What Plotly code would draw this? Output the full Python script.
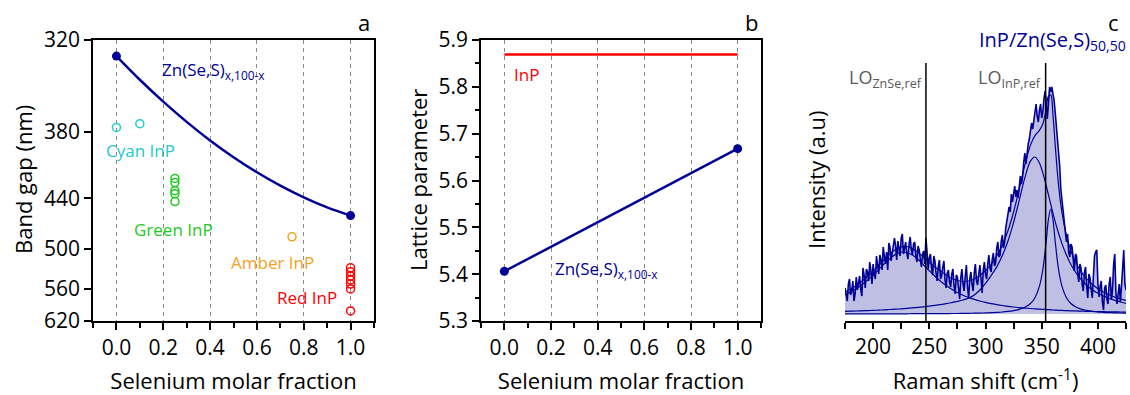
import plotly.graph_objects as go

HC = 1240.0  # eV*nm, converts wavelength to photon energy for the energy-linear axis

# ---------------- Panel a : band gap ----------------
gap_tick_nm = [320, 380, 440, 500, 560, 620]
se_curve_x = [0.0, 0.1, 0.2, 0.3, 0.4, 0.5, 0.6, 0.7, 0.8, 0.9, 1.0]
znses_gap_nm = [329.1, 343.5, 358.0, 372.5, 386.9, 400.9, 414.4, 427.1, 438.9, 449.6, 458.7]
cyan_x = [0.0, 0.1]
cyan_nm = [376.7, 373.9]
green_x = [0.25, 0.25, 0.25, 0.25, 0.25]
green_nm = [420.2, 424.1, 432.1, 435.1, 443.3]
amber_x = [0.75]
amber_nm = [484.0]
red_x = [1.0, 1.0, 1.0, 1.0, 1.0, 1.0, 1.0]
red_nm = [526.5, 532.6, 538.9, 545.3, 551.9, 560.1, 599.9]

# ---------------- Panel b : lattice parameter ----------------
se_b_x = [0.0, 1.0]
lattice_znses = [5.406, 5.668]
lattice_inp = [5.869, 5.869]

# ---------------- Panel c : Raman ----------------
raman_x = list(range(175, 426))  # measured every 1 cm-1 from 175 to 425
raman_int = [
    26, 17, 13, 30, 35, 19, 23, 33, 13, 20, 37, 24, 31, 38, 25, 18, 46, 39, 26, 45,   # 175-194
    42, 33, 52, 44, 30, 50, 40, 35, 58, 49, 40, 59, 54, 44, 67, 58, 50, 62, 44, 71,   # 195-214
    67, 53, 62, 70, 76, 68, 54, 73, 65, 58, 76, 80, 60, 66, 72, 61, 55, 70, 77, 64,   # 215-234
    59, 70, 72, 58, 52, 68, 64, 55, 47, 60, 63, 50, 76, 62, 45, 56, 60, 46, 39, 58,   # 235-254
    53, 41, 33, 48, 54, 35, 38, 47, 53, 34, 26, 41, 44, 32, 27, 40, 45, 28, 20, 39,   # 255-274
    37, 26, 15, 36, 45, 30, 23, 38, 49, 27, 16, 35, 42, 30, 23, 41, 50, 33, 29, 40,   # 275-294
    49, 36, 21, 44, 52, 40, 35, 50, 59, 46, 42, 55, 61, 48, 51, 66, 72, 57, 59, 73,   # 295-314
    79, 66, 72, 86, 94, 97, 107, 102, 120, 112, 120, 128, 117, 124, 116, 131, 138, 130, 137, 152,  # 315-334
    161, 150, 161, 170, 175, 182, 191, 185, 194, 200, 210, 198, 192, 204, 210, 196, 202, 215, 223, 212,  # 335-354
    195, 210, 227, 222, 227, 220, 214, 202, 190, 172, 159, 148, 125, 115, 106, 98, 88, 72, 80, 62,  # 355-374
    57, 70, 67, 52, 43, 60, 58, 40, 32, 50, 46, 30, 23, 42, 47, 28, 16, 40, 36, 25,   # 375-394
    16, 38, 58, 62, 64, 30, 17, 28, 33, 12, 4, 26, 29, 15, 10, 30, 37, 14, 24, 50,    # 395-414
    60, 22, 10, 20, 30, 12, 25, 45, 64, 30, 24]                                       # 415-425

fit_x = [175, 180, 185, 190, 195, 200, 205, 210, 215, 220, 225, 230, 235, 240, 245, 250, 255, 260,
         265, 270, 275, 280, 285, 290, 295, 300, 305, 310, 315, 320, 325, 330, 335, 340, 344, 348,
         351, 354, 356, 358, 360, 362, 365, 368, 372, 376, 380, 385, 390, 395, 400, 405, 410, 415,
         420, 425]
fit_total = [22.0, 25.0, 28.5, 32.7, 37.4, 42.7, 48.5, 54.5, 60.2, 64.6, 67.2, 67.5, 65.4, 61.6, 56.7,
             51.9, 47.0, 43.0, 39.0, 35.5, 33.5, 32.5, 33.0, 35.0, 38.5, 43.5, 49.5, 58.0, 69.0, 83.3,
             102.0, 125.0, 148.8, 168.9, 178.4, 183.6, 190.2, 205.4, 217.9, 219.1, 199.4, 169.0, 128.9,
             101.8, 78.6, 63.2, 52.4, 42.4, 35.1, 29.8, 25.3, 22.0, 19.2, 16.9, 15.1, 13.6]
comp_a = [19.3, 22.1, 25.4, 29.3, 33.8, 38.9, 44.4, 50.2, 55.5, 59.6, 61.8, 61.5, 58.9, 54.5, 49.0,
          43.3, 37.8, 32.8, 28.5, 24.7, 21.5, 18.8, 16.6, 14.6, 13.0, 11.6, 10.4, 9.4, 8.5, 7.7,
          7.0, 6.4, 5.9, 5.5, 5.1, 4.8, 4.6, 4.4, 4.3, 4.2, 4.0, 3.9, 3.7, 3.6, 3.4, 3.2, 3.1,
          2.9, 2.7, 2.6, 2.4, 2.3, 2.2, 2.1, 2.0, 1.9]
comp_b = [2.6, 2.8, 3.0, 3.2, 3.4, 3.6, 3.9, 4.1, 4.5, 4.8, 5.2, 5.7, 6.2, 6.6, 7.2,
          7.9, 8.6, 9.4, 10.3, 11.4, 12.6, 14.0, 15.9, 19.0, 24.0, 30.6, 38.5, 47.1, 58.4, 73.0,
          91.6, 113.6, 136.2, 152.9, 157.0, 151.0, 141.1, 128.3, 119.1, 109.9, 100.9, 92.4, 80.7,
          70.4, 58.9, 49.5, 42.0, 34.6, 28.8, 24.3, 20.7, 17.9, 15.5, 13.6, 12.0, 10.7]
comp_c = [0.1, 0.1, 0.1, 0.1, 0.1, 0.1, 0.2, 0.2, 0.2, 0.2, 0.2, 0.2, 0.3, 0.3, 0.3,
          0.3, 0.4, 0.4, 0.4, 0.5, 0.5, 0.6, 0.7, 0.8, 0.9, 1.1, 1.3, 1.6, 2.0, 2.6,
          3.4, 4.6, 6.7, 10.5, 16.3, 27.8, 44.5, 72.7, 94.5, 105.0, 94.5, 72.7, 44.5,
          27.8, 16.3, 10.5, 7.3, 4.9, 3.6, 2.7, 2.1, 1.7, 1.4, 1.2, 1.0, 0.8]
lo_ref_x = [247.0, 353.5]
lo_ref_top = 251

NAVY = "#000096"
FONT = "Open Sans"
TICKF = dict(family=FONT, size=21, color="black")
TITLEF = dict(family=FONT, size=22, color="black")

fig = go.Figure()

# ---- panel a traces
fig.add_trace(go.Scatter(x=se_curve_x, y=[HC / v for v in znses_gap_nm], mode="lines",
                         line=dict(color=NAVY, width=2.5, shape="spline"), xaxis="x", yaxis="y"))
fig.add_trace(go.Scatter(x=[se_curve_x[0], se_curve_x[-1]],
                         y=[HC / znses_gap_nm[0], HC / znses_gap_nm[-1]], mode="markers",
                         marker=dict(color=NAVY, size=9), xaxis="x", yaxis="y"))
for xs, nms, col in [(cyan_x, cyan_nm, "#22c8d2"), (green_x, green_nm, "#1fc81f"),
                     (amber_x, amber_nm, "#f5a01e"), (red_x, red_nm, "#ff0000")]:
    fig.add_trace(go.Scatter(x=xs, y=[HC / v for v in nms], mode="markers",
                             marker=dict(symbol="circle-open", color=col, size=8, line=dict(width=1.5)),
                             xaxis="x", yaxis="y"))

# ---- panel b traces
fig.add_trace(go.Scatter(x=se_b_x, y=lattice_inp, mode="lines", line=dict(color="#ff0000", width=2.5),
                         xaxis="x2", yaxis="y2"))
fig.add_trace(go.Scatter(x=se_b_x, y=lattice_znses, mode="lines+markers", line=dict(color=NAVY, width=2.5),
                         marker=dict(color=NAVY, size=9), xaxis="x2", yaxis="y2"))

# ---- panel c traces
fig.add_trace(go.Scatter(x=raman_x, y=raman_int, mode="lines", line=dict(width=0),
                         fill="tozeroy", fillcolor="rgba(112,112,196,0.45)", xaxis="x3", yaxis="y3"))
for comp in (comp_a, comp_b, comp_c, fit_total):
    fig.add_trace(go.Scatter(x=fit_x, y=comp, mode="lines", line=dict(color=NAVY, width=1.2, shape="spline"),
                             xaxis="x3", yaxis="y3"))
fig.add_trace(go.Scatter(x=raman_x, y=raman_int, mode="lines", line=dict(color=NAVY, width=1.6),
                         xaxis="x3", yaxis="y3"))

for xv in lo_ref_x:
    fig.add_shape(type="line", xref="x3", yref="y3", x0=xv, x1=xv, y0=-7, y1=lo_ref_top,
                  line=dict(color="black", width=1.5))

W, H = 1130, 395
def px(v):
    return v / W

frame = dict(showline=True, linecolor="black", linewidth=1.5, mirror=True, ticks="outside",
             ticklen=7, tickwidth=1.5, tickcolor="black", zeroline=False, tickfont=TICKF)
sel_x = dict(frame, range=[-0.1, 1.1], tick0=0, dtick=0.2, tickformat=".1f", showgrid=True,
             gridcolor="#8a8a8a", gridwidth=1, griddash="4px,4px",
             minor=dict(dtick=0.1, tick0=0, ticks="outside", ticklen=5, tickwidth=1.5,
                        tickcolor="black", showgrid=False),
             title=dict(text="Selenium molar fraction", font=TITLEF, standoff=18))

fig.update_layout(
    width=W, height=H, margin=dict(l=0, r=0, t=40, b=74), paper_bgcolor="white", plot_bgcolor="white",
    showlegend=False,
    xaxis=dict(sel_x, domain=[px(93), px(374)], anchor="y"),
    yaxis=dict(frame, domain=[0, 1], anchor="x", range=[HC / 620, HC / 320],
               tickvals=[HC / v for v in gap_tick_nm], ticktext=[str(v) for v in gap_tick_nm],
               showgrid=False),
    xaxis2=dict(sel_x, domain=[px(481), px(761)], anchor="y2"),
    yaxis2=dict(frame, domain=[0, 1], anchor="x2", range=[5.3, 5.9], dtick=0.1, tickformat=".1f",
                showgrid=False,
                minor=dict(dtick=0.05, ticks="outside", ticklen=4, tickwidth=1.5, tickcolor="black",
                           showgrid=False)),
    xaxis3=dict(domain=[px(845), px(1126)], anchor="y3", range=[175, 425], tick0=200, dtick=50,
                showline=True, linecolor="black", linewidth=1.5, mirror=False, ticks="outside",
                ticklen=6, tickwidth=1.5, tickcolor="black", zeroline=False, showgrid=False,
                tickfont=TICKF,
                minor=dict(dtick=25, tick0=175, ticks="outside", ticklen=6, tickwidth=1.5,
                           tickcolor="black", showgrid=False),
                title=dict(text="Raman shift (cm<sup>-1</sup>)", font=TITLEF, standoff=18)),
    yaxis3=dict(domain=[0, 1], anchor="x3", range=[-7, 274], showline=False, showticklabels=False,
                ticks="", showgrid=False, zeroline=False),
)

ann = []
def add(text, x, y, xref, yref, size, color, xanchor="left", angle=0):
    ann.append(dict(text=text, x=x, y=y, xref=xref, yref=yref, showarrow=False, xanchor=xanchor,
                    yanchor="middle", textangle=angle, font=dict(family=FONT, size=size, color=color)))

ymid = 1 - 140 / 281
# axis titles (rotated)
add("Band gap (nm)", px(23), ymid, "paper", "paper", 22, "black", "center", -90)
add("Lattice parameter", px(418), ymid, "paper", "paper", 22, "black", "center", -90)
add("Intensity (a.u)", px(816), ymid, "paper", "paper", 22, "black", "center", -90)
# panel letters
add("a", px(364), 1 + 18 / 281, "paper", "paper", 22, "black", "center")
add("b", px(751), 1 + 18 / 281, "paper", "paper", 22, "black", "center")
add("c", px(1113), 1 + 18 / 281, "paper", "paper", 22, "black", "center")
# panel a labels
add("Zn(Se,S)<sub>x,100-x</sub>", 0.184, 3.674, "x", "y", 17, NAVY)
add("Cyan InP", -0.051, 3.138, "x", "y", 17, "#22c8d2")
add("Green InP", 0.068, 2.609, "x", "y", 17, "#1fc81f")
add("Amber InP", 0.479, 2.388, "x", "y", 17, "#f5a01e")
add("Red InP", 0.679, 2.160, "x", "y", 17, "#ff0000")
# panel b labels
add("InP", 0.033, 5.827, "x2", "y2", 17, "#ff0000")
add("Zn(Se,S)<sub>x,100-x</sub>", 0.208, 5.409, "x2", "y2", 17, NAVY)
# panel c labels
add("LO<sub>ZnSe,ref</sub>", 245.0, 236, "x3", "y3", 18, "#5a5a5a", "right")
add("LO<sub>InP,ref</sub>", 351.5, 236, "x3", "y3", 18, "#5a5a5a", "right")
add("InP/Zn(Se,S)<sub>50,50</sub>", px(1128), 1 + 0 / 281, "paper", "paper", 20, NAVY, "right")

fig.update_layout(annotations=ann)
fig.write_html("out.html")
